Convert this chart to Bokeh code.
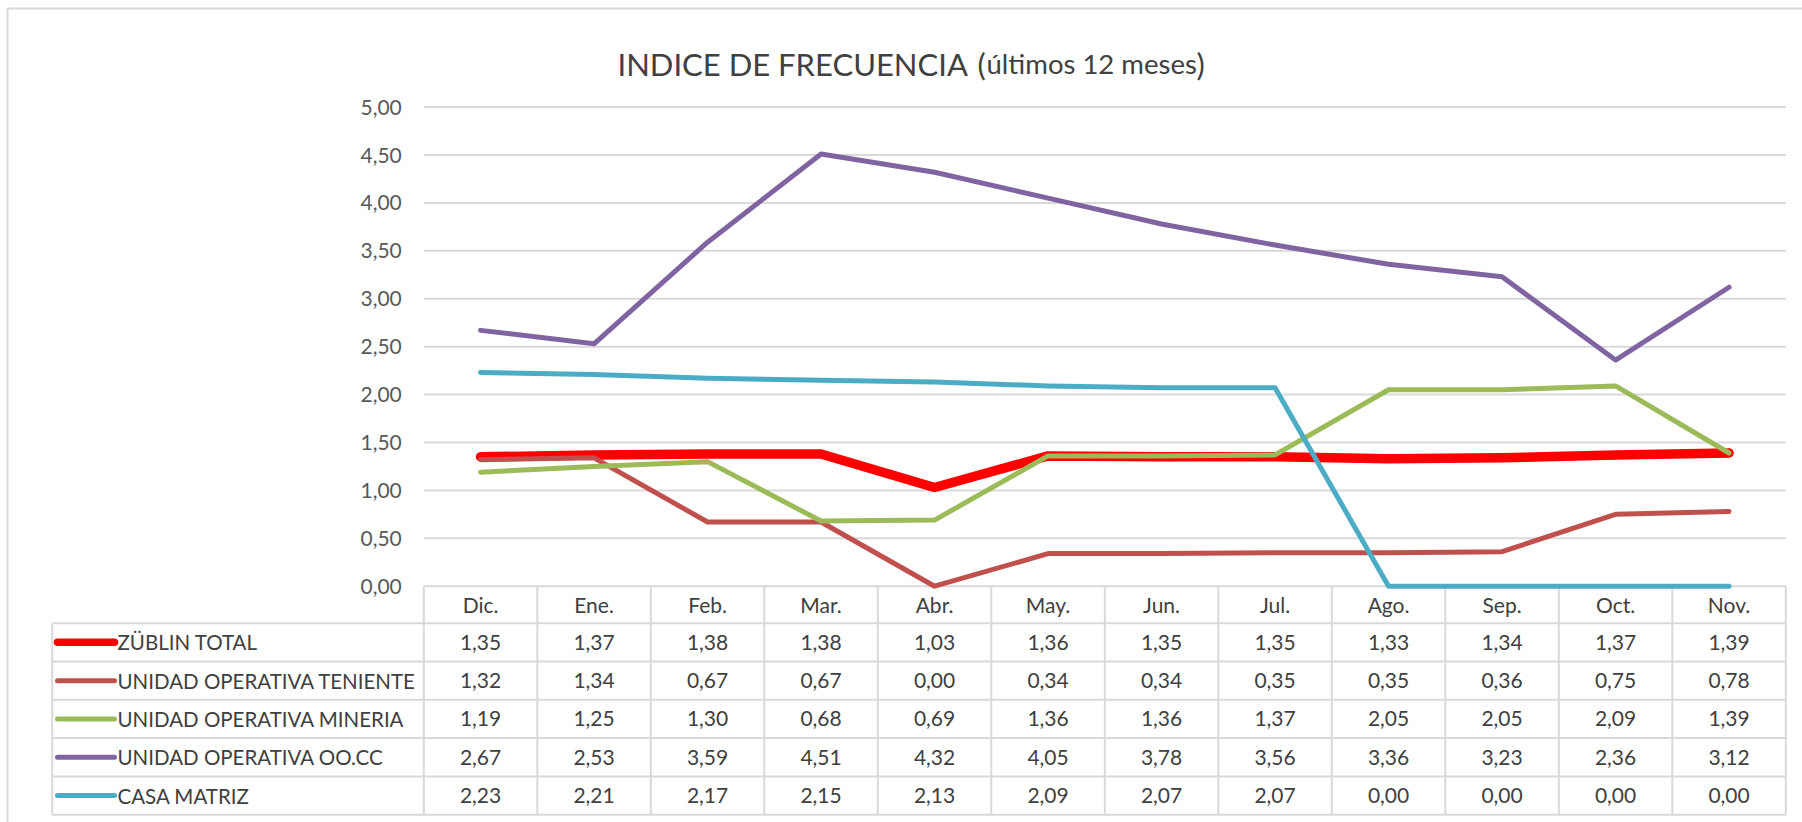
from bokeh.plotting import figure
from bokeh.models import Range1d, LinearAxis, FixedTicker
from bokeh.core.properties import value
from bokeh.embed import file_html
from bokeh.resources import INLINE

# ---------------- data ----------------
months = ["Dic.", "Ene.", "Feb.", "Mar.", "Abr.", "May.", "Jun.", "Jul.", "Ago.", "Sep.", "Oct.", "Nov."]
series_names = ["ZÜBLIN TOTAL", "UNIDAD OPERATIVA TENIENTE", "UNIDAD OPERATIVA MINERIA",
                "UNIDAD OPERATIVA OO.CC", "CASA MATRIZ"]
zublin_total = [1.35, 1.37, 1.38, 1.38, 1.03, 1.36, 1.35, 1.35, 1.33, 1.34, 1.37, 1.39]
uo_teniente = [1.32, 1.34, 0.67, 0.67, 0.00, 0.34, 0.34, 0.35, 0.35, 0.36, 0.75, 0.78]
uo_mineria = [1.19, 1.25, 1.30, 0.68, 0.69, 1.36, 1.36, 1.37, 2.05, 2.05, 2.09, 1.39]
uo_oocc = [2.67, 2.53, 3.59, 4.51, 4.32, 4.05, 3.78, 3.56, 3.36, 3.23, 2.36, 3.12]
casa_matriz = [2.23, 2.21, 2.17, 2.15, 2.13, 2.09, 2.07, 2.07, 0.00, 0.00, 0.00, 0.00]
y_ticks = [0.0, 0.5, 1.0, 1.5, 2.0, 2.5, 3.0, 3.5, 4.0, 4.5, 5.0]
y_tick_labels = ["0,00", "0,50", "1,00", "1,50", "2,00", "2,50", "3,00", "3,50", "4,00", "4,50", "5,00"]

series_values = [zublin_total, uo_teniente, uo_mineria, uo_oocc, casa_matriz]

# ---------------- styles ----------------
series_colors = ["#FF0000", "#C0504D", "#9BBB59", "#8064A2", "#4BACC6"]
series_widths = [9.5, 5, 5, 5, 5]
legend_widths = [7.5, 5, 5, 5, 5]
GRID = "#d9d9d9"
TXT = "#404040"
FONT = "Lato"

# ---------------- layout helpers (page px -> data) ----------------
W, H = 1802, 822
COL_W = 113.5          # px per month column
X0_PX = 423.3          # left edge of month table (page px)
Y0_PX = 585.7          # y = 0 line (page px)
PX_PER_UNIT = 95.82    # px per y unit


def xd(px):
    return (px - X0_PX) / COL_W - 0.5


def yd(py):
    return (Y0_PX - py) / PX_PER_UNIT


HEAD_H = 37 / PX_PER_UNIT
ROW_H = 38.3 / PX_PER_UNIT
n = len(months)
nrows = len(series_names)
y_bottom = -HEAD_H - nrows * ROW_H
legend_left = xd(51.7)

p = figure(width=W, height=H, x_range=Range1d(xd(0), xd(W)), y_range=Range1d(yd(H), yd(0)),
           output_backend="svg", toolbar_location=None, x_axis_type=None, y_axis_type=None,
           min_border=0)
p.min_border_left = p.min_border_top = p.min_border_right = p.min_border_bottom = 0
p.outline_line_color = None
p.background_fill_color = "white"
p.border_fill_color = "white"

# outer chart border (top and left edges)
p.segment(x0=[xd(7), xd(7)], x1=[xd(W), xd(7)], y0=[yd(8), yd(8)], y1=[yd(8), yd(H)],
          line_color=GRID, line_width=2)

# gridlines (from tick list)
p.segment(x0=[-0.5] * (len(y_ticks) - 1), x1=[n - 0.5] * (len(y_ticks) - 1),
          y0=y_ticks[1:], y1=y_ticks[1:], line_color=GRID, line_width=2)

# table borders
vx = [k - 0.5 for k in range(n + 1)]
p.segment(x0=vx, x1=vx, y0=[0] * len(vx), y1=[y_bottom] * len(vx), line_color=GRID, line_width=2)
p.segment(x0=[-0.5], x1=[n - 0.5], y0=[0], y1=[0], line_color=GRID, line_width=2)
hy = [-HEAD_H - k * ROW_H for k in range(nrows + 1)]
p.segment(x0=[legend_left] * len(hy), x1=[n - 0.5] * len(hy), y0=hy, y1=hy, line_color=GRID, line_width=2)
p.segment(x0=[legend_left], x1=[legend_left], y0=[-HEAD_H], y1=[y_bottom], line_color=GRID, line_width=2)

# series lines
xs = list(range(n))
for vals, col, lw in zip(series_values, series_colors, series_widths):
    p.line(xs, vals, line_color=col, line_width=lw, line_cap="round", line_join="round")

# y axis at the left edge of the month table
ax = LinearAxis(fixed_location=-0.5, ticker=FixedTicker(ticks=y_ticks),
                major_label_overrides={t: l for t, l in zip(y_ticks, y_tick_labels)})
ax.axis_line_color = None
ax.major_tick_line_color = None
ax.minor_tick_line_color = None
ax.major_tick_out = 0
ax.major_tick_in = 0
ax.minor_tick_out = 0
ax.major_label_standoff = 22
ax.major_label_text_font = FONT
ax.major_label_text_font_size = "21px"
ax.major_label_text_color = "#595959"
p.add_layout(ax, "left")

# header (month names)
p.text(x=xs, y=[-HEAD_H / 2] * n, text=months, text_font=value(FONT), text_font_size="21px",
       text_align="center", text_baseline="middle", text_color=TXT)

# table values
cx, cy, ct = [], [], []
for r, vals in enumerate(series_values):
    for i, v in enumerate(vals):
        cx.append(i)
        cy.append(-HEAD_H - (r + 0.5) * ROW_H)
        ct.append(f"{v:.2f}".replace(".", ","))
p.text(x=cx, y=cy, text=ct, text_font=value(FONT), text_font_size="21px",
       text_align="center", text_baseline="middle", text_color=TXT)

# legend keys + names
row_y = [-HEAD_H - (r + 0.5) * ROW_H for r in range(nrows)]
p.segment(x0=[xd(57)] * nrows, x1=[xd(114)] * nrows, y0=row_y, y1=row_y,
          line_color=series_colors, line_width=legend_widths, line_cap="round")
p.text(x=[xd(117)] * nrows, y=row_y, text=series_names, text_font=value(FONT),
       text_font_size="20.5px", text_align="left", text_baseline="middle", text_color=TXT)

# title
TY = yd(63.3)
p.text(x=[xd(617)], y=[TY], text=["INDICE DE FRECUENCIA"], text_font=value(FONT),
       text_font_size="31px", text_align="left", text_baseline="alphabetic", text_color=TXT)
p.text(x=[xd(977)], y=[TY], text=["("], text_font=value(FONT),
       text_font_size="31px", text_align="left", text_baseline="alphabetic", text_color=TXT)
p.text(x=[xd(986)], y=[TY], text=["últimos 12 meses"], text_font=value(FONT),
       text_font_size="27.5px", text_align="left", text_baseline="alphabetic", text_color=TXT)
p.text(x=[xd(1196)], y=[TY], text=[")"], text_font=value(FONT),
       text_font_size="31px", text_align="left", text_baseline="alphabetic", text_color=TXT)

open("out.html", "w").write(file_html(p, INLINE))
